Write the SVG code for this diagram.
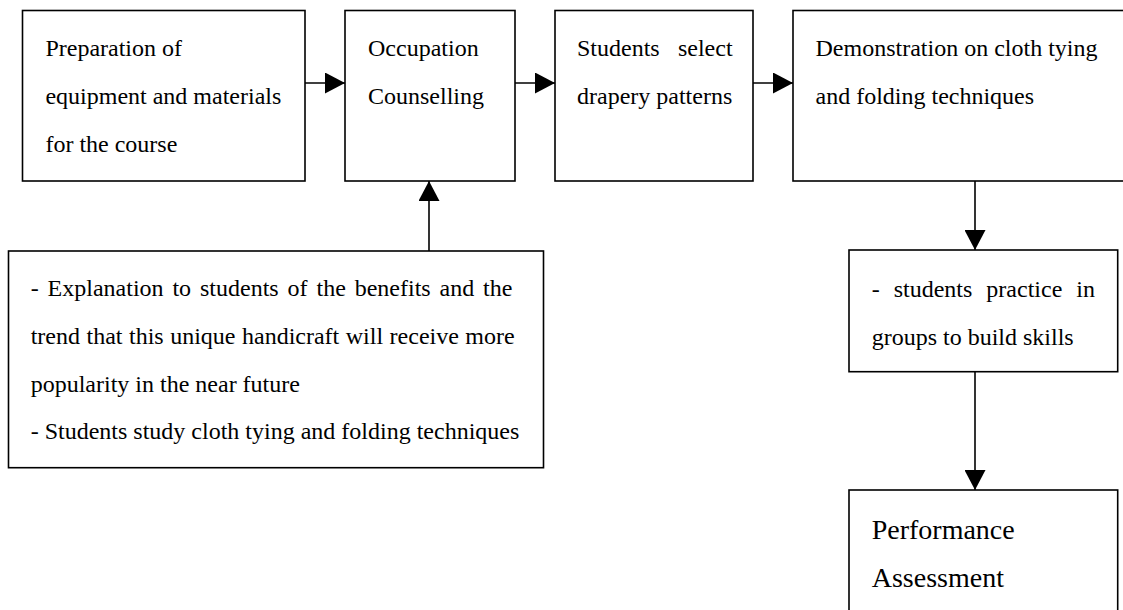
<svg xmlns="http://www.w3.org/2000/svg" width="1123" height="610" viewBox="0 0 1123 610">
<style>
.box{fill:#fff;stroke:#000;stroke-width:1.6}
.t{font-family:"Liberation Serif","Times New Roman",serif;font-size:24px;fill:#000}
.tl{font-family:"Liberation Serif","Times New Roman",serif;font-size:28px;fill:#000}
.c{stroke:#000;stroke-width:1.6;fill:none;marker-end:url(#ah)}
</style>
<defs>
<marker id="ah" viewBox="0 0 20 21" refX="20" refY="10.5" markerWidth="20" markerHeight="21" markerUnits="userSpaceOnUse" orient="auto">
<path d="M0,0 L20,10.5 L0,21 Z" fill="#000"/>
</marker>
</defs>
<rect width="1123" height="610" fill="#fff"/>
<g id="connectors">
<line class="c" x1="305" y1="83" x2="345" y2="83"/>
<line class="c" x1="515" y1="83" x2="555" y2="83"/>
<line class="c" x1="753" y1="83" x2="793" y2="83"/>
<line class="c" x1="429" y1="251" x2="429" y2="181"/>
<line class="c" x1="975" y1="181" x2="975" y2="250"/>
<line class="c" x1="975" y1="372" x2="975" y2="490"/>
</g>
<g id="n1">
<rect class="box" x="22.5" y="10.5" width="282.5" height="170.5"/>
<text class="t" x="45.4" y="55.7">Preparation of</text>
<text class="t" x="45.4" y="103.5">equipment and materials</text>
<text class="t" x="45.4" y="151.5">for the course</text>
</g>
<g id="n2">
<rect class="box" x="345" y="10.5" width="170" height="170.5"/>
<text class="t" x="368" y="55.7">Occupation</text>
<text class="t" x="368" y="103.5">Counselling</text>
</g>
<g id="n3">
<rect class="box" x="555" y="10.5" width="198" height="170.5"/>
<text class="t" x="577" y="55.7">Students</text>
<text class="t" x="732.6" y="55.7" text-anchor="end">select</text>
<text class="t" x="577" y="103.5">drapery patterns</text>
</g>
<g id="n4">
<rect class="box" x="793" y="10.5" width="340" height="170.5"/>
<text class="t" x="815.5" y="55.7">Demonstration on cloth tying</text>
<text class="t" x="815.5" y="103.5">and folding techniques</text>
</g>
<g id="n5">
<rect class="box" x="8.5" y="251" width="535" height="216.7"/>
<text class="t" x="30.7" y="295.7" word-spacing="2.9">- Explanation to students of the benefits and the</text>
<text class="t" x="30.7" y="343.5" word-spacing="0.5">trend that this unique handicraft will receive more</text>
<text class="t" x="30.7" y="391.5">popularity in the near future</text>
<text class="t" x="30.7" y="439.3">- Students study cloth tying and folding techniques</text>
</g>
<g id="n6">
<rect class="box" x="849" y="250" width="268.7" height="121.7"/>
<text class="t" x="871.7" y="296.7" word-spacing="8">- students practice in</text>
<text class="t" x="871.7" y="345">groups to build skills</text>
</g>
<g id="n7">
<rect class="box" x="849" y="490" width="268.7" height="140"/>
<text class="tl" x="871.7" y="539">Performance</text>
<text class="tl" x="871.7" y="587">Assessment</text>
</g>
</svg>
